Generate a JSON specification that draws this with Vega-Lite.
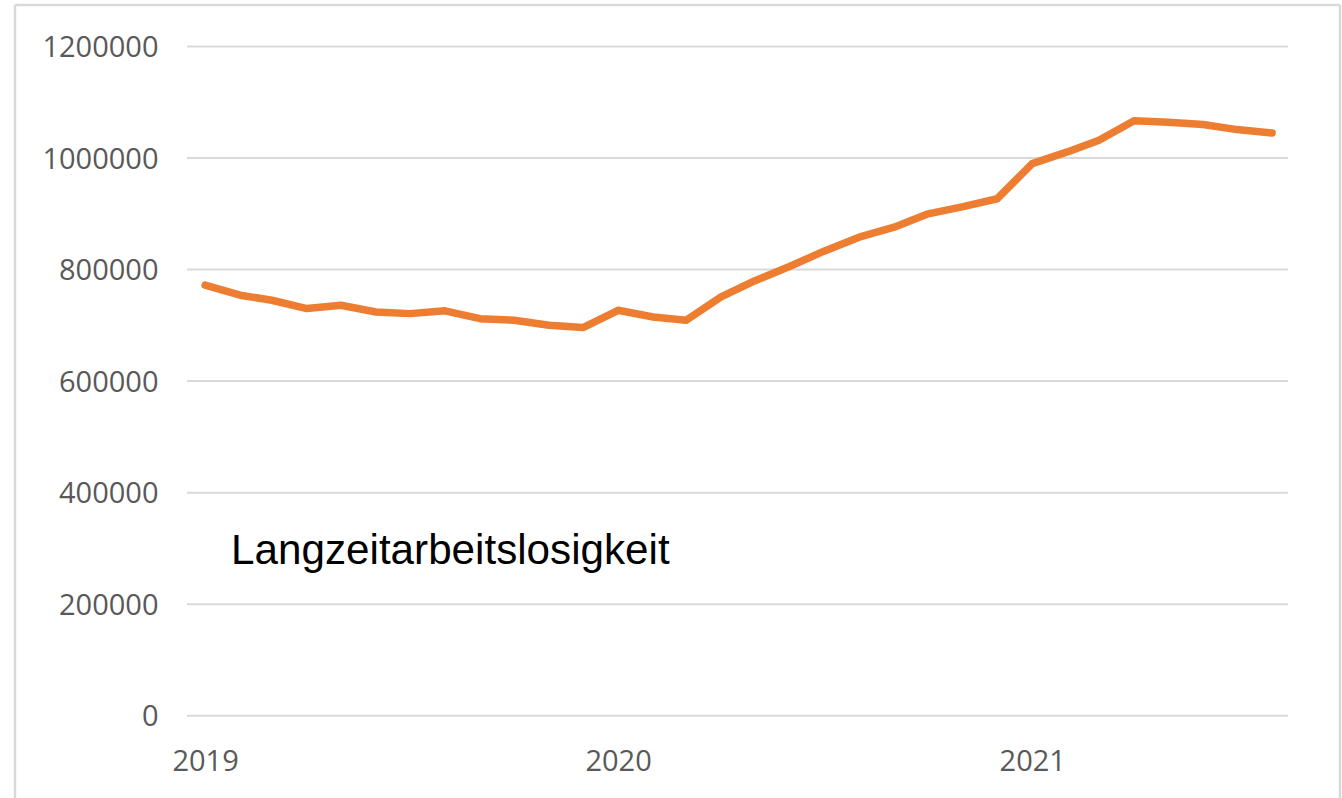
{
  "$schema": "https://vega.github.io/schema/vega-lite/v6.json",
  "width": 1325,
  "height": 793,
  "autosize": "none",
  "padding": {"left": 15, "top": 5, "right": 2, "bottom": 0},
  "background": "white",
  "config": {
    "view": {"stroke": null},
    "axis": {
      "grid": false,
      "domain": false,
      "ticks": false,
      "tickSize": 0,
      "labelPadding": 0,
      "labelFont": "Open Sans",
      "labelFontSize": 29,
      "labelColor": "#595959"
    }
  },
  "datasets": {
    "series": [
      {"date": "2019-01-01", "value": 772000},
      {"date": "2019-02-01", "value": 754000},
      {"date": "2019-03-01", "value": 745000},
      {"date": "2019-04-01", "value": 730000},
      {"date": "2019-05-01", "value": 736000},
      {"date": "2019-06-01", "value": 724000},
      {"date": "2019-07-01", "value": 721000},
      {"date": "2019-08-01", "value": 726000},
      {"date": "2019-09-01", "value": 712000},
      {"date": "2019-10-01", "value": 709000},
      {"date": "2019-11-01", "value": 700000},
      {"date": "2019-12-01", "value": 696000},
      {"date": "2020-01-01", "value": 727000},
      {"date": "2020-02-01", "value": 715000},
      {"date": "2020-03-01", "value": 709000},
      {"date": "2020-04-01", "value": 751000},
      {"date": "2020-05-01", "value": 780000},
      {"date": "2020-06-01", "value": 806000},
      {"date": "2020-07-01", "value": 833000},
      {"date": "2020-08-01", "value": 858000},
      {"date": "2020-09-01", "value": 876000},
      {"date": "2020-10-01", "value": 900000},
      {"date": "2020-11-01", "value": 913000},
      {"date": "2020-12-01", "value": 927000},
      {"date": "2021-01-01", "value": 990000},
      {"date": "2021-02-01", "value": 1011000},
      {"date": "2021-03-01", "value": 1032000},
      {"date": "2021-04-01", "value": 1067000},
      {"date": "2021-05-01", "value": 1064000},
      {"date": "2021-06-01", "value": 1060000},
      {"date": "2021-07-01", "value": 1051000},
      {"date": "2021-08-01", "value": 1045000}
    ],
    "ticks": [
      {"value": 0},
      {"value": 200000},
      {"value": 400000},
      {"value": 600000},
      {"value": 800000},
      {"value": 1000000},
      {"value": 1200000}
    ]
  },
  "layer": [
    {
      "data": {"name": "ticks"},
      "mark": {"type": "rule", "color": "#d9d9d9", "strokeWidth": 2},
      "encoding": {
        "y": {"field": "value", "type": "quantitative", "title": null},
        "x": {"datum": {"year": 2018, "month": 12, "date": 16, "utc": true}, "type": "temporal", "title": null},
        "x2": {"datum": {"year": 2021, "month": 8, "date": 15, "utc": true}}
      }
    },
    {
      "data": {"values": [{"id": 1}]},
      "mark": {"type": "rule", "color": "#d9d9d9", "strokeWidth": 2.5},
      "encoding": {
        "x": {"datum": {"year": 2018, "month": 7, "date": 17, "utc": true}, "type": "temporal", "title": null}
      }
    },
    {
      "data": {"values": [{"id": 1}]},
      "mark": {"type": "rule", "color": "#d9d9d9", "strokeWidth": 2.5},
      "encoding": {
        "x": {"datum": {"year": 2021, "month": 9, "date": 30, "utc": true}, "type": "temporal", "title": null}
      }
    },
    {
      "data": {"values": [{"id": 1}]},
      "mark": {"type": "rule", "color": "#d9d9d9", "strokeWidth": 2.5},
      "encoding": {
        "y": {"datum": 1274417, "type": "quantitative", "title": null}
      }
    },
    {
      "data": {"name": "series"},
      "mark": {"type": "line", "color": "#ED7D31", "strokeWidth": 7.5, "strokeCap": "round", "strokeJoin": "round"},
      "encoding": {
        "x": {
          "field": "date",
          "type": "temporal",
          "title": null,
          "scale": {
            "type": "utc",
            "domain": [
              {"year": 2018, "month": 7, "date": 17, "utc": true},
              {"year": 2021, "month": 9, "date": 30, "utc": true}
            ]
          },
          "axis": {
            "orient": "bottom",
            "offset": -51,
            "values": [
              {"year": 2019, "month": 1, "date": 1, "utc": true},
              {"year": 2020, "month": 1, "date": 1, "utc": true},
              {"year": 2021, "month": 1, "date": 1, "utc": true}
            ],
            "format": "%Y",
            "formatType": "utc",
            "labelAlign": "center",
            "labelFlush": false,
            "labelOverlap": false
          }
        },
        "y": {
          "field": "value",
          "type": "quantitative",
          "title": null,
          "scale": {"domain": [-147579, 1274417], "nice": false, "zero": false},
          "axis": {
            "orient": "left",
            "offset": -143,
            "values": [0, 200000, 400000, 600000, 800000, 1000000, 1200000],
            "format": "d",
            "labelBaseline": "alphabetic",
            "labelOffset": 10,
            "labelOverlap": false
          }
        }
      }
    },
    {
      "data": {"values": [{"label": "Langzeitarbeitslosigkeit"}]},
      "mark": {"type": "text", "font": "Liberation Sans", "fontSize": 42.2, "color": "#000000", "align": "left", "baseline": "alphabetic"},
      "encoding": {
        "text": {"field": "label"},
        "x": {"datum": {"year": 2019, "month": 1, "date": 24, "utc": true}, "type": "temporal", "title": null},
        "y": {"datum": 272000, "type": "quantitative", "title": null}
      }
    }
  ]
}
